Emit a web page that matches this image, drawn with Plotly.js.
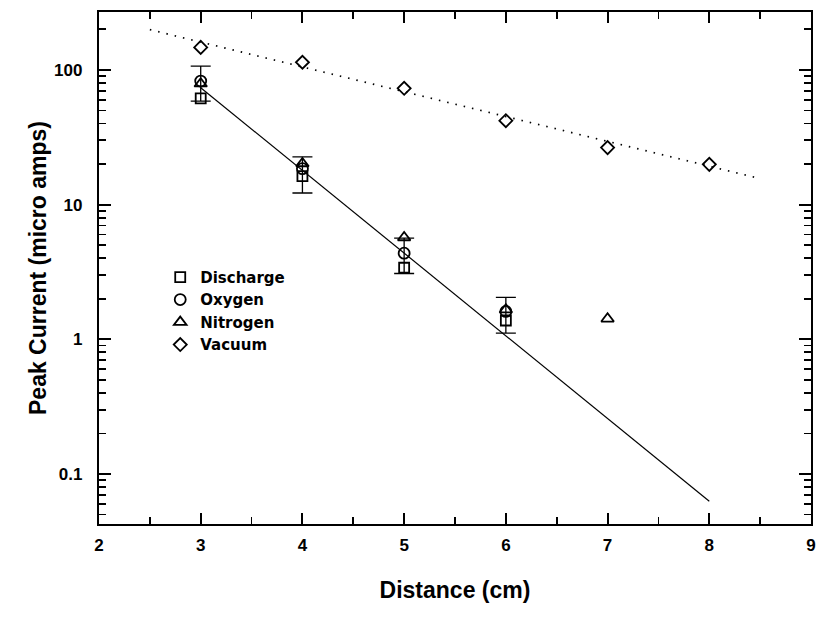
<!DOCTYPE html>
<html>
<head>
<meta charset="utf-8">
<script src="https://cdn.plot.ly/plotly-3.0.1.min.js"></script>
<style>body{margin:0;background:#fff;} #chart{width:826px;height:619px;}</style>
</head>
<body>
<div id="chart"></div>
<script>
// Data
const distance = [3, 4, 5, 6];
const discharge = [61.4, 16.3, 3.4, 1.38];
const oxygen = [82.7, 18.5, 4.36, 1.61];
const oxygenErrPlus = [24, 4.1, 1.28, 0.44];
const oxygenErrMinus = [24, 6.3, 1.28, 0.5];
const nitrogenX = [3, 4, 5, 6, 7];
const nitrogen = [79, 20.2, 5.7, 1.66, 1.42];
const vacuumX = [3, 4, 5, 6, 7, 8];
const vacuum = [147, 114, 73, 42, 26.5, 19.9];
const gasFitX = [3, 8];
const gasFitY = [73.8, 0.0628];
const vacFitX = [2.5, 8.5];
const vacFitY = [199, 15.6];
const seriesNames = ['Discharge', 'Oxygen', 'Nitrogen', 'Vacuum'];
const yTickVals = [0.1, 1, 10, 100];
const yTickText = ['0.1', '1', '10', '100'];

const font = 'Liberation Sans, Arial, sans-serif';
const mk = (sym, size) => ({symbol: sym, size: size, color: '#000', line: {color: '#000', width: 1.8}});

const traces = [
  {x: gasFitX, y: gasFitY, mode: 'lines', line: {color: '#000', width: 1.2}, showlegend: false, hoverinfo: 'skip'},
  {x: vacFitX, y: vacFitY, mode: 'lines', line: {color: '#000', width: 1.7, dash: '1.5px,7px'}, showlegend: false, hoverinfo: 'skip'},
  {x: distance, y: discharge, name: seriesNames[0], mode: 'markers', marker: mk('square-open', 10)},
  {x: distance, y: oxygen, name: seriesNames[1], mode: 'markers', marker: mk('circle-open', 11),
   error_y: {type: 'data', symmetric: false, array: oxygenErrPlus, arrayminus: oxygenErrMinus, color: '#000', thickness: 1.3, width: 10}},
  {x: nitrogenX, y: nitrogen, name: seriesNames[2], mode: 'markers', marker: mk('triangle-up-open', 11)},
  {x: vacuumX, y: vacuum, name: seriesNames[3], mode: 'markers', marker: mk('diamond-open', 10)}
];

const layout = {
  width: 826, height: 619,
  margin: {l: 99, r: 15, t: 12, b: 95},
  paper_bgcolor: '#fff', plot_bgcolor: '#fff',
  font: {family: font, color: '#000', size: 17, weight: 'bold'},
  showlegend: true,
  legend: {x: 0.086, y: 0.514, xanchor: 'left', yanchor: 'top', bgcolor: 'rgba(0,0,0,0)',
           font: {family: 'DejaVu Sans, sans-serif', size: 15, color: '#000', weight: 'bold'}, tracegroupgap: 0},
  xaxis: {
    range: [2, 9], dtick: 1, tick0: 2, showgrid: false, zeroline: false,
    showline: true, linecolor: '#000', linewidth: 2.2, mirror: 'allticks',
    ticks: 'inside', ticklen: 11, tickwidth: 2, tickcolor: '#000',
    minor: {dtick: 0.5, ticks: 'inside', ticklen: 7, tickwidth: 1.8, tickcolor: '#000', showgrid: false},
    tickfont: {family: font, size: 17, weight: 'bold'}, ticklabelstandoff: 4,
    title: {text: 'Distance (cm)', font: {family: font, size: 23, weight: 'bold'}, standoff: 28}
  },
  yaxis: {
    type: 'log', range: [-1.371, 2.43], tickvals: yTickVals, ticktext: yTickText,
    showgrid: false, zeroline: false,
    showline: true, linecolor: '#000', linewidth: 2.2, mirror: 'allticks',
    ticks: 'inside', ticklen: 12, tickwidth: 2, tickcolor: '#000',
    minor: {dtick: 'D1', ticks: 'inside', ticklen: 7, tickwidth: 1.8, tickcolor: '#000', showgrid: false},
    tickfont: {family: font, size: 17, weight: 'bold'}, ticklabelstandoff: 11,
    title: {text: 'Peak Current (micro amps)', font: {family: font, size: 23, weight: 'bold'}, standoff: 1}
  }
};

Plotly.newPlot('chart', traces, layout, {staticPlot: true, displayModeBar: false});
</script>
</body>
</html>
